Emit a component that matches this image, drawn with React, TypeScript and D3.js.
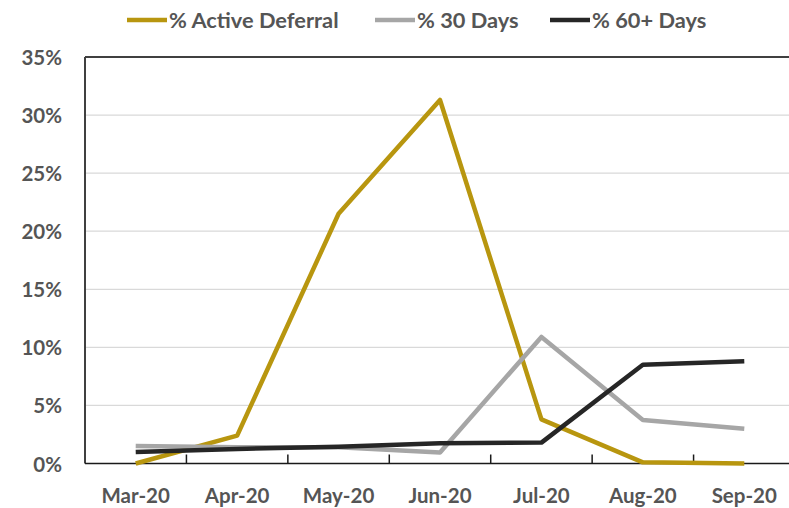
import React from "react";
import * as d3 from "d3";

const months = ["Mar-20", "Apr-20", "May-20", "Jun-20", "Jul-20", "Aug-20", "Sep-20"];
const activeDeferral = [0.0, 2.4, 21.5, 31.3, 3.8, 0.1, 0.0];
const days30 = [1.5, 1.4, 1.4, 0.95, 10.9, 3.75, 3.0];
const days60 = [1.0, 1.25, 1.45, 1.75, 1.8, 8.5, 8.8];
const yTicks = [0, 5, 10, 15, 20, 25, 30, 35];

const seriesNames = ["% Active Deferral", "% 30 Days", "% 60+ Days"];
const seriesColors = ["#B8960F", "#A6A6A6", "#262626"];

const W = 789;
const H = 508;
const FONT = "Lato, 'Open Sans', sans-serif";

export default function App() {
  const x = d3.scaleBand<string>().domain(months).range([85, 795]).padding(0);
  const y = d3.scaleLinear().domain([0, 35]).range([463.5, 57]);
  const cx = (m: string) => (x(m) as number) + x.bandwidth() / 2;
  const line = d3
    .line<number>()
    .x((_, i) => cx(months[i]))
    .y((v) => y(v));
  const series = [activeDeferral, days30, days60];
  const legendX = [127, 375, 550];

  return (
    <svg width={W} height={H} style={{ position: "absolute", left: 0, top: 0 }}>
      <rect x={0} y={0} width={W} height={H} fill="#fff" />
      {yTicks.map((t) =>
        t > 0 && t < 35 ? (
          <line key={"g" + t} x1={85} x2={W} y1={y(t)} y2={y(t)} stroke="#D9D9D9" strokeWidth={1.2} />
        ) : null
      )}
      {/* plot border */}
      <line x1={85} x2={W} y1={y(35)} y2={y(35)} stroke="#404040" strokeWidth={2} />
      <line x1={85} x2={85} y1={y(35)} y2={y(0)} stroke="#404040" strokeWidth={2} />
      <line x1={85} x2={W} y1={y(0)} y2={y(0)} stroke="#1a1a1a" strokeWidth={1.5} />
      {months.slice(1).map((m) => (
        <line key={"t" + m} x1={x(m) as number} x2={x(m) as number} y1={y(0) - 9} y2={y(0)} stroke="#1a1a1a" strokeWidth={1.5} />
      ))}
      {series.map((s, i) => (
        <path key={"s" + i} d={line(s) || ""} fill="none" stroke={seriesColors[i]} strokeWidth={4.5} strokeLinejoin="round" />
      ))}
      {yTicks.map((t) => (
        <text key={"y" + t} x={62} y={y(t) + 8} textAnchor="end" fontFamily={FONT} fontWeight={700} fontSize={20.5} fill="#555555">
          {t + "%"}
        </text>
      ))}
      {months.map((m) => (
        <text key={"x" + m} x={cx(m)} y={503} textAnchor="middle" fontFamily={FONT} fontWeight={700} fontSize={20.5} fill="#555555">
          {m}
        </text>
      ))}
      {seriesNames.map((n, i) => (
        <g key={"l" + i}>
          <line x1={legendX[i]} x2={legendX[i] + 40} y1={20} y2={20} stroke={seriesColors[i]} strokeWidth={4.5} />
          <text x={legendX[i] + 42} y={28} fontFamily={FONT} fontWeight={700} fontSize={21.8} fill="#555555">
            {n}
          </text>
        </g>
      ))}
    </svg>
  );
}
